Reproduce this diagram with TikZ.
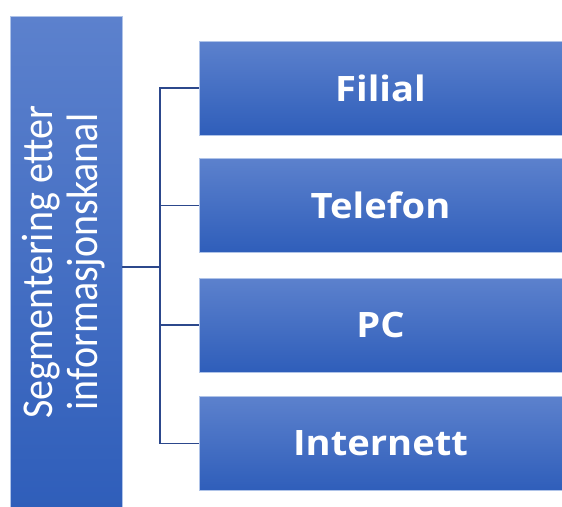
\documentclass[tikz,border=0pt]{standalone}
\usepackage{fontspec}
\usepackage{graphicx}
\setmainfont{Open Sans}
\newfontfamily\calib{Carlito}
\definecolor{boxtop}{RGB}{92,129,205}
\definecolor{boxbot}{RGB}{47,94,186}
\definecolor{boxedge}{RGB}{175,195,232}
\definecolor{linkcol}{RGB}{44,72,140}
\newcommand{\chanlabel}[1]{\scalebox{1.09}[1]{#1}}
\tikzset{
  chanbox/.style={rectangle, top color=boxtop, bottom color=boxbot, draw=boxedge,
    line width=0.6pt, minimum width=363pt, minimum height=94pt, inner sep=0pt,
    text=white, font=\bfseries\fontsize{35}{40}\selectfont},
  segbox/.style={rectangle, top color=boxtop, bottom color=boxbot, draw=boxedge,
    line width=0.6pt, minimum width=112pt, minimum height=492pt, inner sep=0pt,
    text=white},
  link/.style={draw=linkcol, line width=1.2pt}
}
\begin{document}
\begin{tikzpicture}[x=1pt, y=-1pt]
  \useasboundingbox (0,0) rectangle (562,506);
  \begin{scope}
    \clip (0,0) rectangle (562,506);
    % segmentation box on the left
    \node[segbox] (seg) at (66,262) {\rotatebox{90}{\scalebox{1}[1.1]{\calib\fontsize{40}{41}\selectfont
      \begin{tabular}{@{}c@{}}Segmentering etter\\informasjonskanal\end{tabular}}}};
    % channel boxes
    \node[chanbox] (filial)    at (380.5,88)  {\chanlabel{Filial}};
    \node[chanbox] (telefon)   at (380.5,205.5) {\chanlabel{Telefon}};
    \node[chanbox] (pc)        at (380.5,325) {\chanlabel{PC}};
    \node[chanbox] (internett) at (380.5,443.5) {\chanlabel{Internett}};
  \end{scope}
  % tree connectors
  \coordinate (hub) at (160,267);
  \draw[link] (seg.east |- hub) -- (hub);
  \draw[link] (filial.west) -| (hub |- filial.west) -- (hub |- internett.west) -- (internett.west);
  \draw[link] (hub |- telefon.west) -- (telefon.west);
  \draw[link] (hub |- pc.west) -- (pc.west);
\end{tikzpicture}
\end{document}
